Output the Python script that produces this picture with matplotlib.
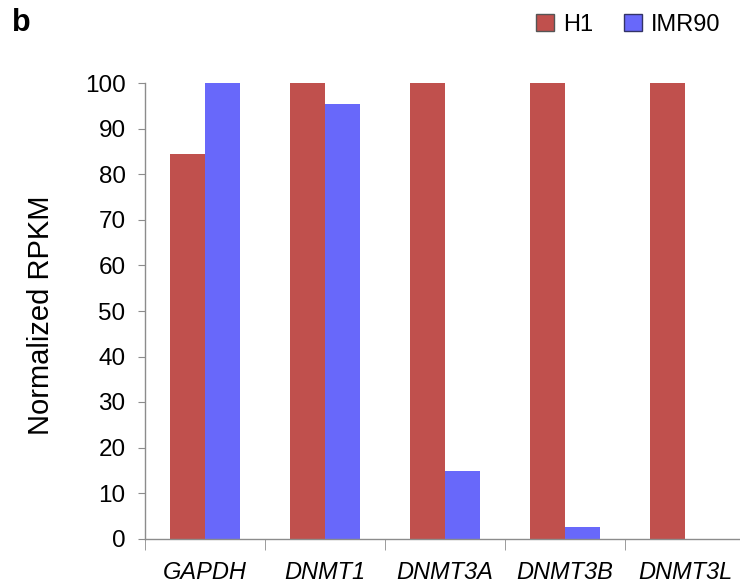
import numpy as np
import matplotlib
matplotlib.use('Agg')
import matplotlib.pyplot as plt
from matplotlib.patches import Patch

genes = ["GAPDH", "DNMT1", "DNMT3A", "DNMT3B", "DNMT3L"]
h1 = [84.4, 100, 100, 100, 100]
imr90 = [100, 95.5, 14.9, 2.5, 0]
yticks = [0, 10, 20, 30, 40, 50, 60, 70, 80, 90, 100]

rojo = '#C0504D'
azul = '#6868FA'
gris = '#8C8C8C'

plt.rcParams['font.family'] = ['Liberation Sans', 'DejaVu Sans']

fig = plt.figure(figsize=(7.4, 5.85), dpi=100)
# el eje x sigue mas alla del borde derecho
ax = fig.add_axes([145/740, 46.5/585, 600/740, 455/585])

pos = np.arange(len(genes))
ancho = 0.29
ax.bar(pos - ancho/2, h1, ancho, color=rojo, label="H1")
ax.bar(pos + ancho/2, imr90, ancho, color=azul, label="IMR90")

ax.set_xlim(-0.5, len(genes) - 0.5)
ax.set_ylim(0, 100)
ax.set_yticks(yticks)
ax.tick_params(axis='y', labelsize=17.5, length=5, color=gris, pad=9)

ax.set_xticks(pos)
ax.set_xticklabels(genes, fontstyle='italic', fontsize=17)
ax.set_xticks(np.arange(-0.5, len(genes), 1), minor=True)
ax.tick_params(axis='x', which='major', length=0, pad=16)
ax.tick_params(axis='x', which='minor', length=8, color=gris)

for s in ['top', 'right']:
    ax.spines[s].set_visible(False)
for s in ['left', 'bottom']:
    ax.spines[s].set_color(gris)
    ax.spines[s].set_linewidth(1.0)

fig.text(41/740, 1 - 315/585, "Normalized RPKM", fontsize=21, rotation=90,
         ha='center', va='center')

handles = [Patch(facecolor=rojo, edgecolor='#555555', label="H1"),
           Patch(facecolor=azul, edgecolor='#333366', label="IMR90")]
fig.legend(handles=handles, loc='upper left', bbox_to_anchor=(536/740, 1 - 14/585),
           ncol=2, frameon=False, fontsize=17, handlelength=0.75, handleheight=0.75,
           handletextpad=0.4, columnspacing=1.3, borderpad=0, borderaxespad=0)

fig.text(12/740, 1 - 23/585, "b", fontsize=22, fontweight='bold', va='center')

plt.savefig("out.png", dpi=100)
plt.close()
